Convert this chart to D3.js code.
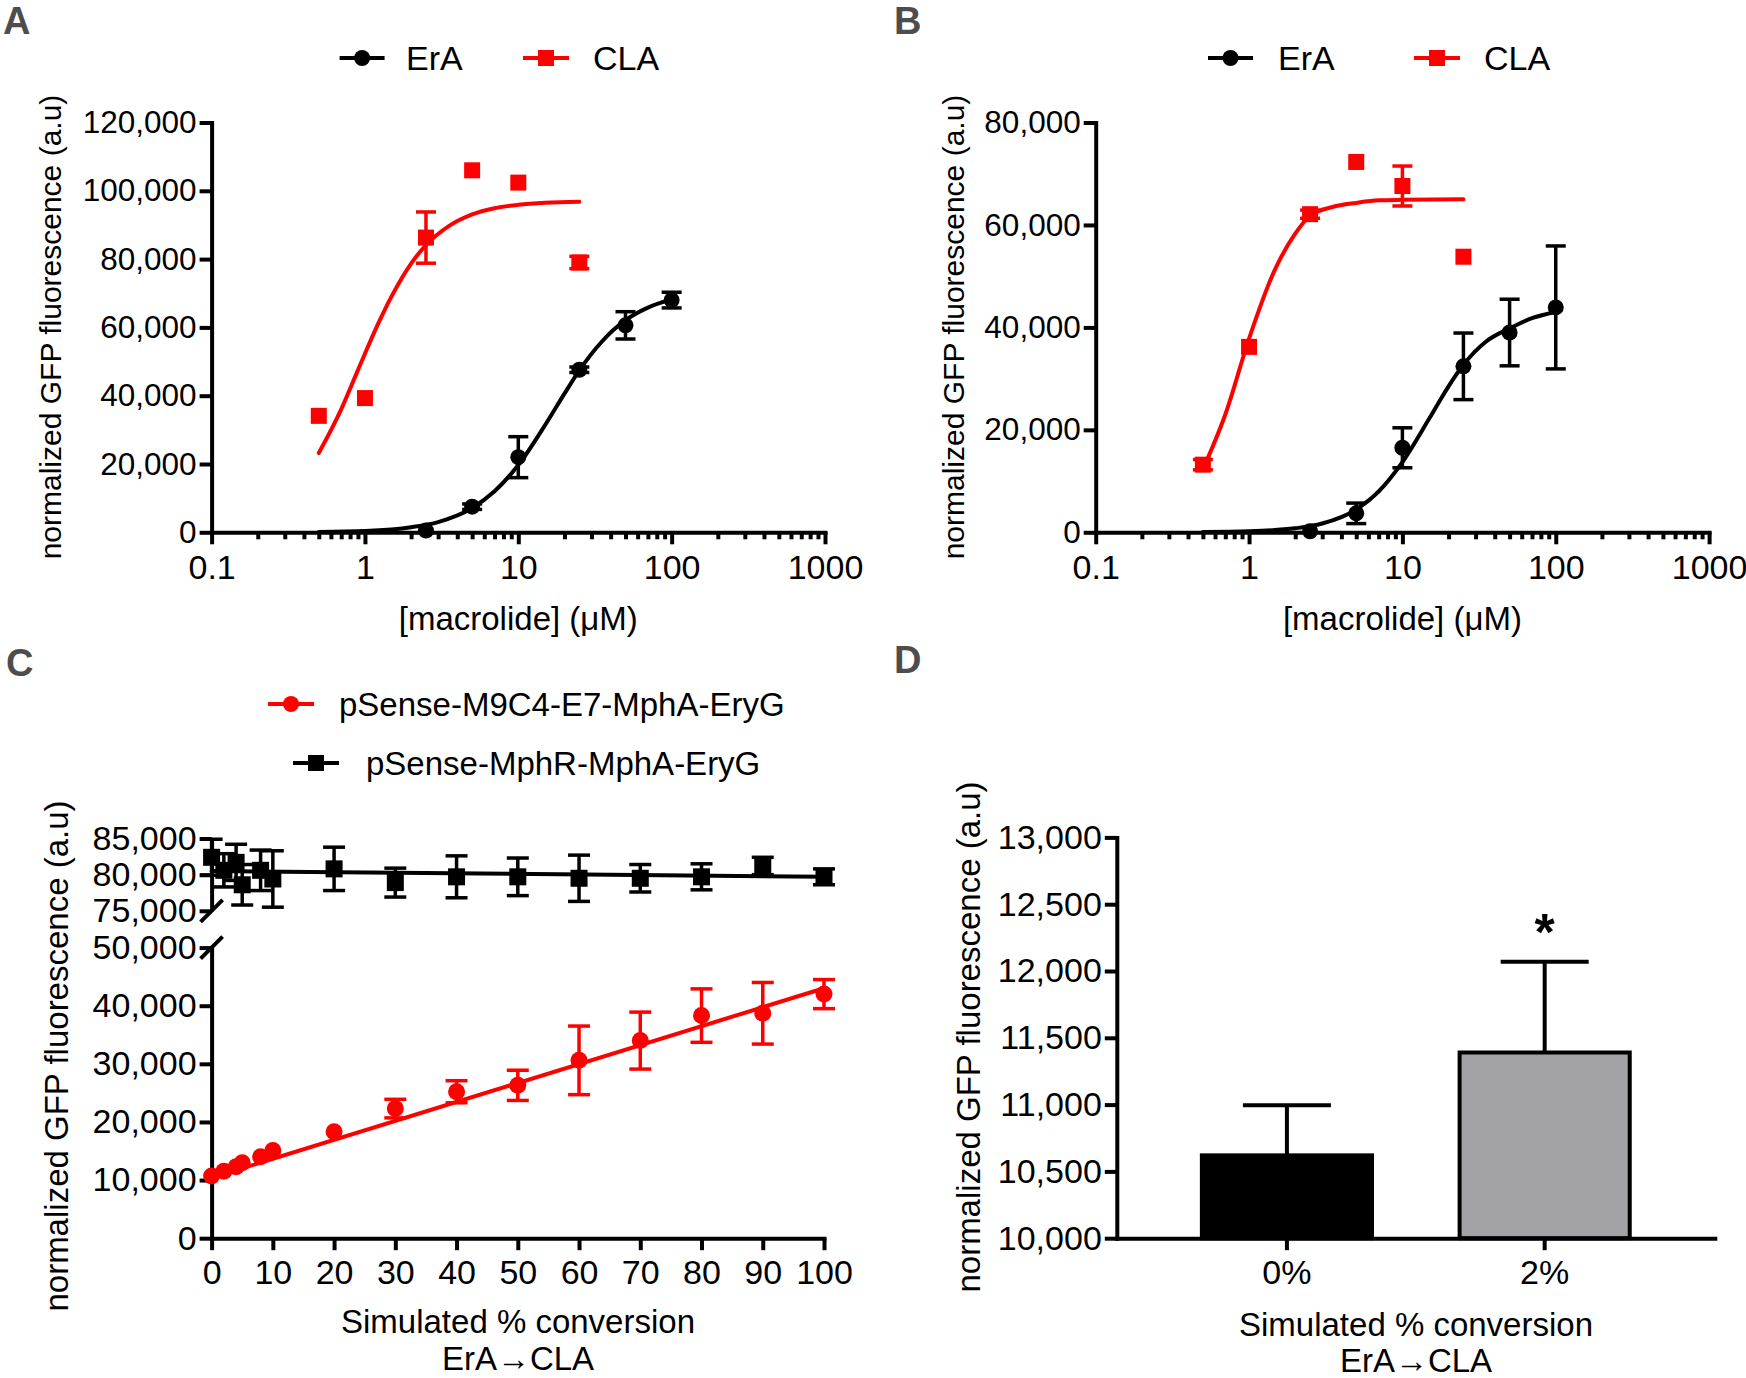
<!DOCTYPE html>
<html><head><meta charset="utf-8">
<script src="https://cdn.jsdelivr.net/npm/d3@7"></script>
<style>
body{margin:0;background:#fff;}
svg text{font-family:"Liberation Sans",Arial,Helvetica,sans-serif;}
</style></head><body>
<svg id="chart" width="1746" height="1378"></svg>
<script>
// ---------------- DATA ----------------
// Panels A & B: dose response
const concCLA = [0.5, 1, 2.5, 5, 10, 25];
const concErA = [2.5, 5, 10, 25, 50, 100];
const claA_mean = [34100, 39300, 86300, 106000, 102400, 79000];
const claA_sd   = [0, 0, 7500, 0, 0, 1800];
const eraA_mean = [500, 7500, 22000, 47600, 60600, 68000];
const eraA_sd   = [0, 800, 6000, 800, 4000, 2300];
const claB_mean = [13200, 36200, 62100, 72300, 67600, 53800];
const claB_sd   = [1000, 0, 800, 0, 3900, 0];
const eraB_mean = [200, 3700, 16500, 32400, 39000, 43900];
const eraB_sd   = [0, 2000, 3900, 6500, 6500, 12000];
// fitted curves
const fitCLA_A_x = [0.5, 0.7, 0.9, 1.25, 1.5, 2, 2.5, 3.5, 5, 7, 10, 15, 25];
const fitCLA_A_y = [23200, 36000, 47500, 62100, 69300, 78700, 84100, 89600, 93100, 94900, 95900, 96500, 96800];
const fitErA_x   = [0.5, 1, 2, 3, 5, 7, 10, 15, 20, 25, 35, 50, 70, 100];
const fitErA_A_y = [100, 400, 1500, 3000, 7100, 12000, 19700, 31500, 40600, 47400, 55800, 62100, 65800, 68200];
const fitCLA_B_x = [0.5, 0.7, 1, 1.45, 2, 2.5, 3.5, 5, 7, 10, 25];
const fitCLA_B_y = [12300, 23000, 37800, 50800, 58300, 61800, 63500, 64300, 64800, 64900, 65000];
const fitErA_B_y = [50, 200, 780, 1710, 4450, 7960, 13700, 22250, 28500, 32700, 37200, 39800, 41800, 43000];
const logTicks = [0.1, 1, 10, 100, 1000];
const yTicksA = [0, 20000, 40000, 60000, 80000, 100000, 120000];
const yTicksB = [0, 20000, 40000, 60000, 80000];

// Panel C: simulated conversion
const convX = [0, 2, 4, 5, 8, 10, 20, 30, 40, 50, 60, 70, 80, 90, 100];
const m9_mean = [10700, 11500, 12300, 13000, 14000, 15100, 18300, 22300, 25200, 26300, 30600, 34000, 38300, 38700, 42000];
const m9_sd   = [0, 0, 0, 0, 0, 0, 0, 1600, 1900, 2600, 5900, 4900, 4600, 5300, 2500];
const mphR_mean = [82400, 80600, 81700, 78600, 80600, 79400, 80800, 78900, 79700, 79700, 79500, 79500, 79700, 81200, 79700];
const mphR_sd   = [2500, 2300, 2500, 2800, 2800, 3900, 3000, 2000, 2900, 2600, 3200, 1900, 1800, 1200, 1100];
const fitC_x = [0, 100];
const fitM9_y = [10400, 43000];
const fitMphR_y = [80500, 79700];
const xTicksC = [0, 10, 20, 30, 40, 50, 60, 70, 80, 90, 100];
const yTicksCLow = [0, 10000, 20000, 30000, 40000, 50000];
const yTicksCHigh = [75000, 80000, 85000];

// Panel D: bars
const barCats = ["0%", "2%"];
const bar_mean = [10620, 11390];
const bar_sd = [375, 680];
const yTicksD = [10000, 10500, 11000, 11500, 12000, 12500, 13000];

// ---------------- DRAWING ----------------
const svg = d3.select("#chart");
const RED = "#ff0000";
const fmt = d3.format(",");

function styleAxis(g, fs) {
  g.attr("font-size", fs).attr("font-family", null);
  g.selectAll("path,line").attr("stroke", "#000").attr("stroke-width", 4);
  g.select(".domain").attr("stroke-linecap", "square");
  g.selectAll("text").attr("fill", "#000");
}

function logXAxis(x, y0, fs) {
  const minor = [];
  [0.1, 1, 10, 100].forEach(k => { for (let m = 2; m <= 9; m++) minor.push(k * m); });
  const gm = svg.append("g").attr("transform", `translate(0,${y0})`)
    .call(d3.axisBottom(x).tickValues(minor).tickSize(7).tickFormat(""));
  gm.select(".domain").remove();
  styleAxis(gm, fs);
  const g = svg.append("g").attr("transform", `translate(0,${y0})`)
    .call(d3.axisBottom(x).tickValues(logTicks).tickSize(12).tickSizeOuter(0).tickPadding(11)
      .tickFormat(d => String(d)));
  styleAxis(g, fs);
}

function errBars(g, xs, ms, sds, x, y, color, cap) {
  xs.forEach((c, i) => {
    if (!sds[i]) return;
    const cx = x(c), y1 = y(ms[i] + sds[i]), y2 = y(ms[i] - sds[i]);
    g.append("line").attr("x1", cx).attr("x2", cx).attr("y1", y1).attr("y2", y2)
      .attr("stroke", color).attr("stroke-width", 3.5);
    [y1, y2].forEach(yy => g.append("line").attr("x1", cx - cap / 2).attr("x2", cx + cap / 2)
      .attr("y1", yy).attr("y2", yy).attr("stroke", color).attr("stroke-width", 3.5));
  });
}

function squares(g, xs, ms, x, y, color, s) {
  g.selectAll(null).data(xs).enter().append("rect")
    .attr("x", d => x(d) - s / 2).attr("y", (d, i) => y(ms[i]) - s / 2)
    .attr("width", s).attr("height", s).attr("fill", color);
}
function circles(g, xs, ms, x, y, color, r) {
  g.selectAll(null).data(xs).enter().append("circle")
    .attr("cx", d => x(d)).attr("cy", (d, i) => y(ms[i])).attr("r", r).attr("fill", color);
}
function curve(g, xs, ys, x, y, color) {
  g.append("path").datum(xs.map((d, i) => [d, ys[i]]))
    .attr("d", d3.line().x(d => x(d[0])).y(d => y(d[1])).curve(d3.curveMonotoneX))
    .attr("fill", "none").attr("stroke", color).attr("stroke-width", 4).attr("stroke-linecap", "round");
}
function legendItem(x1, x2, yy, tx, label, color, shape, fs) {
  svg.append("line").attr("x1", x1).attr("x2", x2).attr("y1", yy).attr("y2", yy)
    .attr("stroke", color).attr("stroke-width", 4);
  const cx = (x1 + x2) / 2;
  if (shape === "circle") svg.append("circle").attr("cx", cx).attr("cy", yy).attr("r", 8).attr("fill", color);
  else svg.append("rect").attr("x", cx - 8).attr("y", yy - 8).attr("width", 16).attr("height", 16).attr("fill", color);
  svg.append("text").attr("x", tx).attr("y", yy + 12).attr("font-size", fs).attr("fill", "#000").text(label);
}
function yTitle(xb, yc, fs) {
  svg.append("text").attr("transform", `translate(${xb},${yc}) rotate(-90)`)
    .attr("text-anchor", "middle").attr("font-size", fs).attr("fill", "#000")
    .text("normalized GFP fluorescence (a.u)");
}
function panelLetter(x, y, t) {
  svg.append("text").attr("x", x).attr("y", y).attr("font-size", 38).attr("font-weight", "bold")
    .attr("fill", "#4d4d4d").text(t);
}

// ---- Panels A and B ----
function dosePanel(x0, ticks, ymax, cla, claSd, era, eraSd, fitClaX, fitClaY, fitEraY, leg) {
  const x = d3.scaleLog().domain([0.1, 1000]).range([x0, x0 + 613.4]);
  const y = d3.scaleLinear().domain([0, ymax]).range([532.3, 122.5]);
  const gy = svg.append("g").attr("transform", `translate(${x0},0)`)
    .call(d3.axisLeft(y).tickValues(ticks).tickSize(12).tickSizeOuter(0).tickPadding(3).tickFormat(fmt));
  styleAxis(gy, 31.5);
  logXAxis(x, 532.3, 34);
  const g = svg.append("g");
  curve(g, fitErA_x, fitEraY, x, y, "#000");
  curve(g, fitClaX, fitClaY, x, y, RED);
  errBars(g, concErA, era, eraSd, x, y, "#000", 20);
  errBars(g, concCLA, cla, claSd, x, y, RED, 20);
  circles(g, concErA, era, x, y, "#000", 8);
  squares(g, concCLA, cla, x, y, RED, 16);
  svg.append("text").attr("x", x(10) + 0).attr("y", 630).attr("text-anchor", "middle")
    .attr("font-size", 33).attr("fill", "#000").text("[macrolide] (μM)");
  legendItem(leg[0], leg[0] + 45, 58, leg[1], "ErA", "#000", "circle", 34);
  legendItem(leg[2], leg[2] + 46, 58, leg[3], "CLA", RED, "rect", 34);
}
dosePanel(211.6, yTicksA, 120000, claA_mean, claA_sd, eraA_mean, eraA_sd,
  fitCLA_A_x, fitCLA_A_y, fitErA_A_y, [339.6, 406, 523, 593]);
yTitle(61, 327, 30);
dosePanel(1095.7, yTicksB, 80000, claB_mean, claB_sd, eraB_mean, eraB_sd,
  fitCLA_B_x, fitCLA_B_y, fitErA_B_y, [1208, 1278, 1414, 1484]);
yTitle(964, 327, 30);

// ---- Panel C ----
(function () {
  const x0 = 211.6;
  const x = d3.scaleLinear().domain([0, 100]).range([x0, 824]);
  const yL = d3.scaleLinear().domain([0, 50000]).range([1238.2, 947.6]);
  const yH = d3.scaleLinear().domain([75000, 85000]).range([910.8, 838.5]);
  const gL = svg.append("g").attr("transform", `translate(${x0},0)`)
    .call(d3.axisLeft(yL).tickValues(yTicksCLow).tickSize(12).tickSizeOuter(0).tickPadding(3).tickFormat(fmt));
  styleAxis(gL, 34);
  const gH = svg.append("g").attr("transform", `translate(${x0},0)`)
    .call(d3.axisLeft(yH).tickValues(yTicksCHigh).tickSize(12).tickSizeOuter(0).tickPadding(3).tickFormat(fmt));
  styleAxis(gH, 34);
  gH.select(".domain").attr("stroke-linecap", "butt");
  gL.select(".domain").attr("stroke-linecap", "butt");
  // break marks
  [yH(75000), yL(50000)].forEach(yy => svg.append("line")
    .attr("x1", x0 - 11).attr("y1", yy + 11).attr("x2", x0 + 11).attr("y2", yy - 11)
    .attr("stroke", "#000").attr("stroke-width", 4));
  const gx = svg.append("g").attr("transform", `translate(0,${yL(0)})`)
    .call(d3.axisBottom(x).tickValues(xTicksC).tickSize(12).tickSizeOuter(0).tickPadding(10));
  styleAxis(gx, 34);
  const g = svg.append("g");
  curve(g, fitC_x, fitMphR_y, x, yH, "#000");
  curve(g, fitC_x, fitM9_y, x, yL, RED);
  errBars(g, convX, mphR_mean, mphR_sd, x, yH, "#000", 22);
  errBars(g, convX, m9_mean, m9_sd, x, yL, RED, 22);
  squares(g, convX, mphR_mean, x, yH, "#000", 17);
  circles(g, convX, m9_mean, x, yL, RED, 8.5);
  svg.append("text").attr("x", 518).attr("y", 1333).attr("text-anchor", "middle")
    .attr("font-size", 33).attr("fill", "#000").text("Simulated % conversion");
  svg.append("text").attr("x", 518).attr("y", 1370).attr("text-anchor", "middle")
    .attr("font-size", 33).attr("fill", "#000").text("ErA→CLA");
  yTitle(68, 1056, 33);
  legendItem(268, 314, 704, 339, "pSense-M9C4-E7-MphA-EryG", RED, "circle", 33);
  legendItem(293, 339, 763, 366, "pSense-MphR-MphA-EryG", "#000", "rect", 33);
})();

// ---- Panel D ----
(function () {
  const x0 = 1116.8;
  const x = d3.scaleBand().domain(barCats).range([x0, 1714.8]).paddingInner(0.34).paddingOuter(0.33);
  const y = d3.scaleLinear().domain([10000, 13000]).range([1238.2, 837.4]);
  const g = svg.append("g");
  const fills = ["#000000", "#a2a2a7"];
  barCats.forEach((c, i) => {
    const cx = x(c) + x.bandwidth() / 2;
    g.append("line").attr("x1", cx).attr("x2", cx).attr("y1", y(bar_mean[i])).attr("y2", y(bar_mean[i] + bar_sd[i]))
      .attr("stroke", "#000").attr("stroke-width", 4);
    g.append("line").attr("x1", cx - 44).attr("x2", cx + 44).attr("y1", y(bar_mean[i] + bar_sd[i]))
      .attr("y2", y(bar_mean[i] + bar_sd[i])).attr("stroke", "#000").attr("stroke-width", 4);
  });
  g.selectAll(null).data(barCats).enter().append("rect")
    .attr("x", d => x(d)).attr("width", x.bandwidth())
    .attr("y", (d, i) => y(bar_mean[i])).attr("height", (d, i) => y(10000) - y(bar_mean[i]))
    .attr("fill", (d, i) => fills[i]).attr("stroke", "#000").attr("stroke-width", 4);
  const gy = svg.append("g").attr("transform", `translate(${x0},0)`)
    .call(d3.axisLeft(y).tickValues(yTicksD).tickSize(12).tickSizeOuter(0).tickPadding(3).tickFormat(fmt));
  styleAxis(gy, 34);
  const gx = svg.append("g").attr("transform", `translate(0,${y(10000)})`)
    .call(d3.axisBottom(x).tickSize(12).tickSizeOuter(0).tickPadding(10));
  styleAxis(gx, 34);
  svg.append("text").attr("x", x("2%") + x.bandwidth() / 2).attr("y", 950).attr("text-anchor", "middle")
    .attr("font-size", 52).attr("font-weight", "bold").attr("fill", "#000").text("*");
  svg.append("text").attr("x", 1416).attr("y", 1336).attr("text-anchor", "middle")
    .attr("font-size", 33).attr("fill", "#000").text("Simulated % conversion");
  svg.append("text").attr("x", 1416).attr("y", 1372).attr("text-anchor", "middle")
    .attr("font-size", 33).attr("fill", "#000").text("ErA→CLA");
  yTitle(980, 1037, 33);
})();

panelLetter(3, 34, "A");
panelLetter(894, 34, "B");
panelLetter(6, 676, "C");
panelLetter(894, 673, "D");
</script>
</body></html>
